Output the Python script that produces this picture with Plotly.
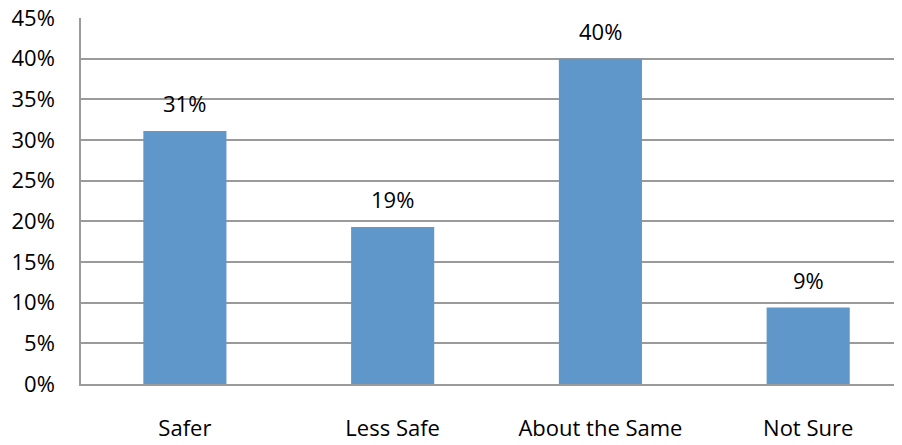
import plotly.graph_objects as go

categories = ["Safer", "Less Safe", "About the Same", "Not Sure"]
values = [31.1, 19.3, 40.0, 9.4]
labels = ["31%", "19%", "40%", "9%"]
tick_vals = [0, 5, 10, 15, 20, 25, 30, 35, 40, 45]
tick_text = ["0%", "5%", "10%", "15%", "20%", "25%", "30%", "35%", "40%", "45%"]

FONT = "'Open Sans', Lato, sans-serif"
FS = 22

fig = go.Figure()
fig.add_trace(go.Bar(
    x=list(range(len(categories))), y=values,
    marker=dict(color="#6097CA", line=dict(width=0)),
    width=0.4,
    hoverinfo="skip",
))

for i, (v, t) in enumerate(zip(values, labels)):
    fig.add_annotation(x=i, y=v, text=t, showarrow=False, yanchor="bottom",
                       yshift=11, font=dict(family=FONT, size=FS, color="#000000"))

# page body adds an 8px offset; margins compensate for it
fig.update_layout(
    width=902, height=445,
    margin=dict(l=73, r=0, t=10, b=69, autoexpand=False),
    paper_bgcolor="white", plot_bgcolor="white",
    showlegend=False,
    font=dict(family=FONT, size=FS, color="#000000"),
)
fig.update_xaxes(
    range=[-0.5, 3.49], automargin=False,
    tickmode="array", tickvals=list(range(len(categories))), ticktext=categories,
    showgrid=False, zeroline=False,
    showline=True, linecolor="#9A9A9A", linewidth=1.5,
    ticks="outside", ticklen=24, tickcolor="rgba(0,0,0,0)",
    tickfont=dict(family=FONT, size=FS, color="#000000"),
    ticklabeloverflow="allow",
)
fig.update_yaxes(
    range=[0, 45], automargin=False,
    tickmode="array", tickvals=tick_vals, ticktext=tick_text,
    showgrid=True, gridcolor="#9A9A9A", gridwidth=1.5,
    zeroline=False,
    showline=True, linecolor="#9A9A9A", linewidth=1.5,
    ticks="outside", ticklen=20, tickcolor="rgba(0,0,0,0)",
    tickfont=dict(family=FONT, size=FS, color="#000000"),
    ticklabeloverflow="allow",
)

fig.write_html("out.html")
